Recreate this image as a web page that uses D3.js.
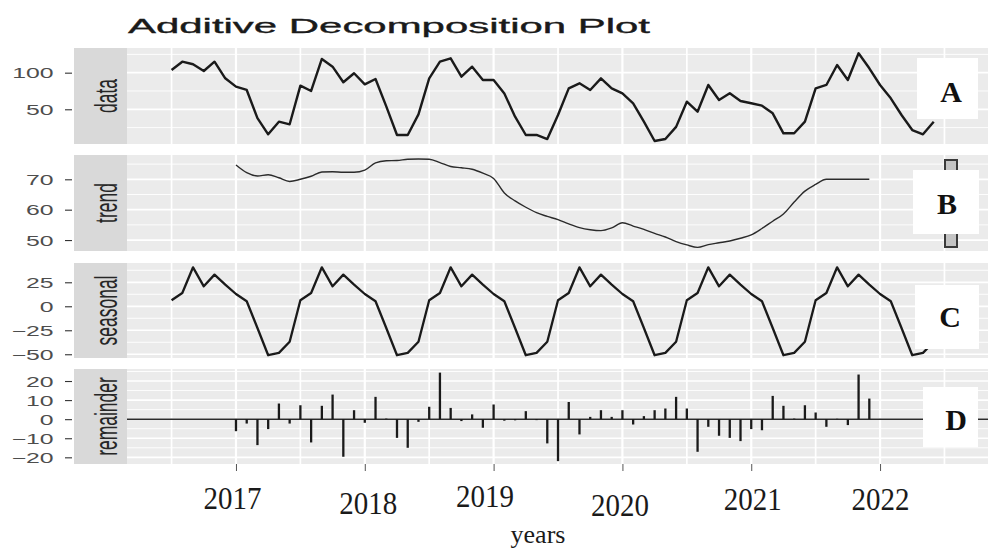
<!DOCTYPE html>
<html>
<head>
<meta charset="utf-8">
<script src="https://cdn.jsdelivr.net/npm/d3@7"></script>
<style>
  body { margin: 0; background: #ffffff; }
  svg { display: block; }
</style>
</head>
<body>
<svg id="chart" width="988" height="549"></svg>
<script>
// ---- series (monthly) ----
// observed series, July 2016 .. June 2022
const dataStart = 2016.5;
const dataValues = [
  103.7, 115, 111.5, 102.3, 115, 92.3,
  80.9, 76.4, 38, 15.8, 33.1, 29.5, 82.3, 75, 118.7, 108.2, 86.9, 99.2,
  84.1, 91.4, 54, 14.9, 14.9, 43.1, 92.3, 115, 119.6, 94.5, 108.2, 90,
  90, 71.5, 39.9, 14.9, 14.9, 9.4, 42.2, 78.6, 85.5, 76.4, 92.3, 78.6,
  71.8, 58.2, 33.1, 6.7, 9.4, 26, 60.4, 46.7, 83.2, 62.7, 71.8, 61.3,
  58.2, 54.9, 44.5, 17.2, 17.2, 33.1, 78.6, 83.2, 110.5, 90, 126.5, 106,
  83.2, 65, 42.2, 21.7, 15.8, 33.1
];

// trend (centred moving average), January 2017 .. December 2021
const trendStart = 2017;
const trendValues = [
  74.7, 72.2, 71.1, 71.5, 70.5, 69.3, 70, 71, 72.4, 72.5, 72.3, 72.3,
  73, 75.4, 76.1, 76.2, 76.6, 76.7, 76.6, 75.5, 74.2, 73.8, 73.3, 72,
  70.3, 65.5, 62.9, 60.8, 59, 57.8, 56.7, 55.3, 54.1, 53.4, 53.1, 54,
  55.7, 54.6, 53.5, 52.2, 51, 49.5, 48.4, 47.6, 48.5, 49.1, 49.7, 50.6,
  51.7, 53.8, 56.2, 58.6, 62.5, 66.1, 68.3, 70, 70, 70, 70, 70
];

// seasonal component, July 2016 .. June 2022
const seasonalStart = 2016.5;
const seasonalValues = [
  6.3, 13.9, 40.6, 20.8, 33, 22.6,
  12.8, 5.2, -22.6, -51, -48.6, -37, 6.3, 13.9, 40.6, 20.8, 33, 22.6,
  12.8, 5.2, -22.6, -51, -48.6, -37, 6.3, 13.9, 40.6, 20.8, 33, 22.6,
  12.8, 5.2, -22.6, -51, -48.6, -37, 6.3, 13.9, 40.6, 20.8, 33, 22.6,
  12.8, 5.2, -22.6, -51, -48.6, -37, 6.3, 13.9, 40.6, 20.8, 33, 22.6,
  12.8, 5.2, -22.6, -51, -48.6, -37, 6.3, 13.9, 40.6, 20.8, 33, 22.6,
  12.8, 5.2, -22.6, -51, -48.6, -37
];

// remainder, January 2017 .. December 2021
const remainderStart = 2017;
const remainderValues = [
  -6.3, -2.3, -13.6, -5.2, 8.2, -2.3, 7.3, -12.2, 7, 12.9, -19.7, 4.7,
  -1.9, 11.7, 0.3, -9.8, -15, -1.4, 6.5, 24.4, 5.9, -1, 2.5, -4.5,
  7.7, -0.8, -0.6, 4.2, -0.5, -12.7, -22, 9, -8, 1.2, 4.7, 1.2,
  4.7, -2.8, 1.6, 4.7, 5.6, 11.7, 5.6, -17.1, -4, -8.7, -9.8, -11.5,
  -5.2, -5.8, 12.2, 7, 0.3, 7.3, 3.5, -4, 0.2, -3.1, 23.4, 10.8
];

// axis ticks and labels
const yearTicks = [2017, 2018, 2019, 2020, 2021, 2022];
const dataTicks = [50, 100];
const trendTicks = [50, 60, 70];
const seasonalTicks = [-50, -25, 0, 25];
const remainderTicks = [-20, -10, 0, 10, 20];
const stripLabels = ["data", "trend", "seasonal", "remainder"];
const panelTags = ["A", "B", "C", "D"];
const titleText = "Additive Decomposition Plot";
const xTitle = "years";

// ---- layout ----
const svg = d3.select("#chart");
const plotLeft = 127, plotRight = 990;
const x = d3.scaleLinear().domain([2016.154, 2022.838]).range([127, 988]);
const stretch = 1.77; // horizontal glyph stretch of the figure's sans text

const panels = [
  { top: 48,  bottom: 144, domain: [2.6, 133.7],   ticks: dataTicks },
  { top: 155, bottom: 251, domain: [46.4, 78.0],   ticks: trendTicks },
  { top: 263, bottom: 358, domain: [-53.9, 45.1],  ticks: seasonalTicks },
  { top: 369, bottom: 464, domain: [-23.5, 26.3],  ticks: remainderTicks }
];
panels.forEach(p => {
  p.y = d3.scaleLinear().domain(p.domain).range([p.bottom, p.top]);
});

const toPoints = (start, vals) => vals.map((v, i) => ({ t: start + i / 12, v }));

// title
svg.append("text")
  .attr("x", 128).attr("y", 33)
  .attr("font-family", "Liberation Sans, Arial, sans-serif")
  .attr("font-size", 21)
  .attr("fill", "#1a1a1a")
  .attr("stroke", "#1a1a1a").attr("stroke-width", 0.35)
  .attr("textLength", 522)
  .attr("lengthAdjust", "spacingAndGlyphs")
  .text(titleText);

const defs = svg.append("defs");

panels.forEach((p, i) => {
  const g = svg.append("g");
  const h = p.bottom - p.top;

  defs.append("clipPath").attr("id", "clip" + i)
    .append("rect").attr("x", plotLeft).attr("y", p.top)
    .attr("width", plotRight - plotLeft).attr("height", h);

  // panel background
  g.append("rect").attr("x", plotLeft).attr("y", p.top)
    .attr("width", plotRight - plotLeft).attr("height", h)
    .attr("fill", "#ebebeb");

  const grid = g.append("g").attr("clip-path", `url(#clip${i})`);
  const step = p.ticks[1] - p.ticks[0];
  const half = step / 2;
  const lo = p.domain[0], hi = p.domain[1];
  const lines = d3.range(Math.ceil(lo / half), Math.floor(hi / half) + 1).map(k => k * half);
  lines.forEach(v => {
    const major = Math.abs(v / step - Math.round(v / step)) < 1e-6;
    grid.append("line")
      .attr("x1", plotLeft).attr("x2", plotRight)
      .attr("y1", p.y(v)).attr("y2", p.y(v))
      .attr("stroke", "#ffffff")
      .attr("stroke-width", major ? 1.7 : 0.9);
  });
  d3.range(2016, 2023.01, 0.5).forEach(t => {
    const major = Number.isInteger(t);
    grid.append("line")
      .attr("x1", x(t)).attr("x2", x(t))
      .attr("y1", p.top).attr("y2", p.bottom)
      .attr("stroke", "#ffffff")
      .attr("stroke-width", major ? 2.2 : 1.7);
  });

  // strip on the left
  g.append("rect").attr("x", 74).attr("y", p.top)
    .attr("width", 53).attr("height", h).attr("fill", "#d9d9d9");
  g.append("text")
    .attr("transform", `translate(117,${(p.top + p.bottom) / 2}) scale(${stretch},1) rotate(-90)`)
    .attr("text-anchor", "middle")
    .attr("font-family", "Liberation Sans, Arial, sans-serif")
    .attr("font-size", 17.5)
    .attr("fill", "#262626")
    .text(stripLabels[i]);

  // y axis
  const ax = g.append("g").attr("transform", "translate(72,0)")
    .call(d3.axisLeft(p.y).tickValues(p.ticks).tickSize(7).tickFormat(d3.format("d")));
  ax.select(".domain").remove();
  ax.selectAll(".tick line").attr("stroke", "#333333").attr("stroke-width", 1.1);
  ax.selectAll(".tick text")
    .attr("x", null).attr("dy", "0.36em")
    .attr("transform", `translate(-18.5,0) scale(${stretch},1)`)
    .attr("text-anchor", "end")
    .attr("font-family", "Liberation Sans, Arial, sans-serif")
    .attr("font-size", 14)
    .attr("fill", "#4d4d4d");

  p.layer = g.append("g").attr("clip-path", `url(#clip${i})`);
});

// series
const line = (p) => d3.line().x(d => x(d.t)).y(d => p.y(d.v));

panels[0].layer.append("path")
  .datum(toPoints(dataStart, dataValues))
  .attr("d", line(panels[0]))
  .attr("fill", "none").attr("stroke", "#1a1a1a")
  .attr("stroke-width", 2.4).attr("stroke-linejoin", "round");

panels[1].layer.append("path")
  .datum(toPoints(trendStart, trendValues))
  .attr("d", d3.line().curve(d3.curveMonotoneX).x(d => x(d.t)).y(d => panels[1].y(d.v)))
  .attr("fill", "none").attr("stroke", "#2b2b2b")
  .attr("stroke-width", 1.4).attr("stroke-linejoin", "round");

panels[2].layer.append("path")
  .datum(toPoints(seasonalStart, seasonalValues))
  .attr("d", line(panels[2]))
  .attr("fill", "none").attr("stroke", "#1a1a1a")
  .attr("stroke-width", 2.3).attr("stroke-linejoin", "round");

const pr = panels[3];
pr.layer.append("line")
  .attr("x1", plotLeft).attr("x2", plotRight)
  .attr("y1", pr.y(0)).attr("y2", pr.y(0))
  .attr("stroke", "#2b2b2b").attr("stroke-width", 1.5);
pr.layer.selectAll("line.bar")
  .data(toPoints(remainderStart, remainderValues))
  .join("line").attr("class", "bar")
  .attr("x1", d => x(d.t)).attr("x2", d => x(d.t))
  .attr("y1", pr.y(0)).attr("y2", d => pr.y(d.v))
  .attr("stroke", "#1a1a1a").attr("stroke-width", 2.3);

// x axis under the bottom panel
const xa = svg.append("g").attr("transform", "translate(0,464)")
  .call(d3.axisBottom(x).tickValues(yearTicks).tickSize(7).tickFormat(d3.format("d")));
xa.select(".domain").remove();
xa.selectAll(".tick line").attr("stroke", "#555555").attr("stroke-width", 1);
const labelShift = [0, 5, -2, 7, 1, 1];
xa.selectAll(".tick text")
  .attr("y", null).attr("dy", null)
  .attr("transform", (d, i) => `translate(${[-4, 3, -9, -3, 1, 0][i]},${45 + labelShift[i]}) scale(1,1.1)`)
  .attr("font-family", "Liberation Serif, Times New Roman, serif")
  .attr("font-size", 29)
  .attr("fill", "#1a1a1a");

svg.append("text")
  .attr("x", 538).attr("y", 543)
  .attr("text-anchor", "middle")
  .attr("font-family", "Liberation Serif, Times New Roman, serif")
  .attr("font-size", 26)
  .attr("fill", "#1a1a1a")
  .text(xTitle);

// small outlined bar at the right of the trend panel
svg.append("rect")
  .attr("x", 945).attr("y", 160).attr("width", 12).attr("height", 87)
  .attr("fill", "#c4c4c4").attr("stroke", "#3a3a3a").attr("stroke-width", 2);

// panel tags
const tagBoxes = [
  { x: 917, y: 58,  w: 61, h: 61, cx: 951, base: 102 },
  { x: 913, y: 170, w: 66, h: 64, cx: 947, base: 214 },
  { x: 915, y: 285, w: 64, h: 64, cx: 950, base: 327 },
  { x: 923, y: 387, w: 55, h: 60, cx: 956, base: 430 }
];
tagBoxes.forEach((b, i) => {
  svg.append("rect").attr("x", b.x).attr("y", b.y)
    .attr("width", b.w).attr("height", b.h).attr("fill", "#ffffff");
  svg.append("text")
    .attr("x", b.cx).attr("y", b.base)
    .attr("text-anchor", "middle")
    .attr("font-family", "Liberation Serif, Times New Roman, serif")
    .attr("font-weight", "bold")
    .attr("font-size", 30)
    .attr("fill", "#111111")
    .text(panelTags[i]);
});
</script>
</body>
</html>
